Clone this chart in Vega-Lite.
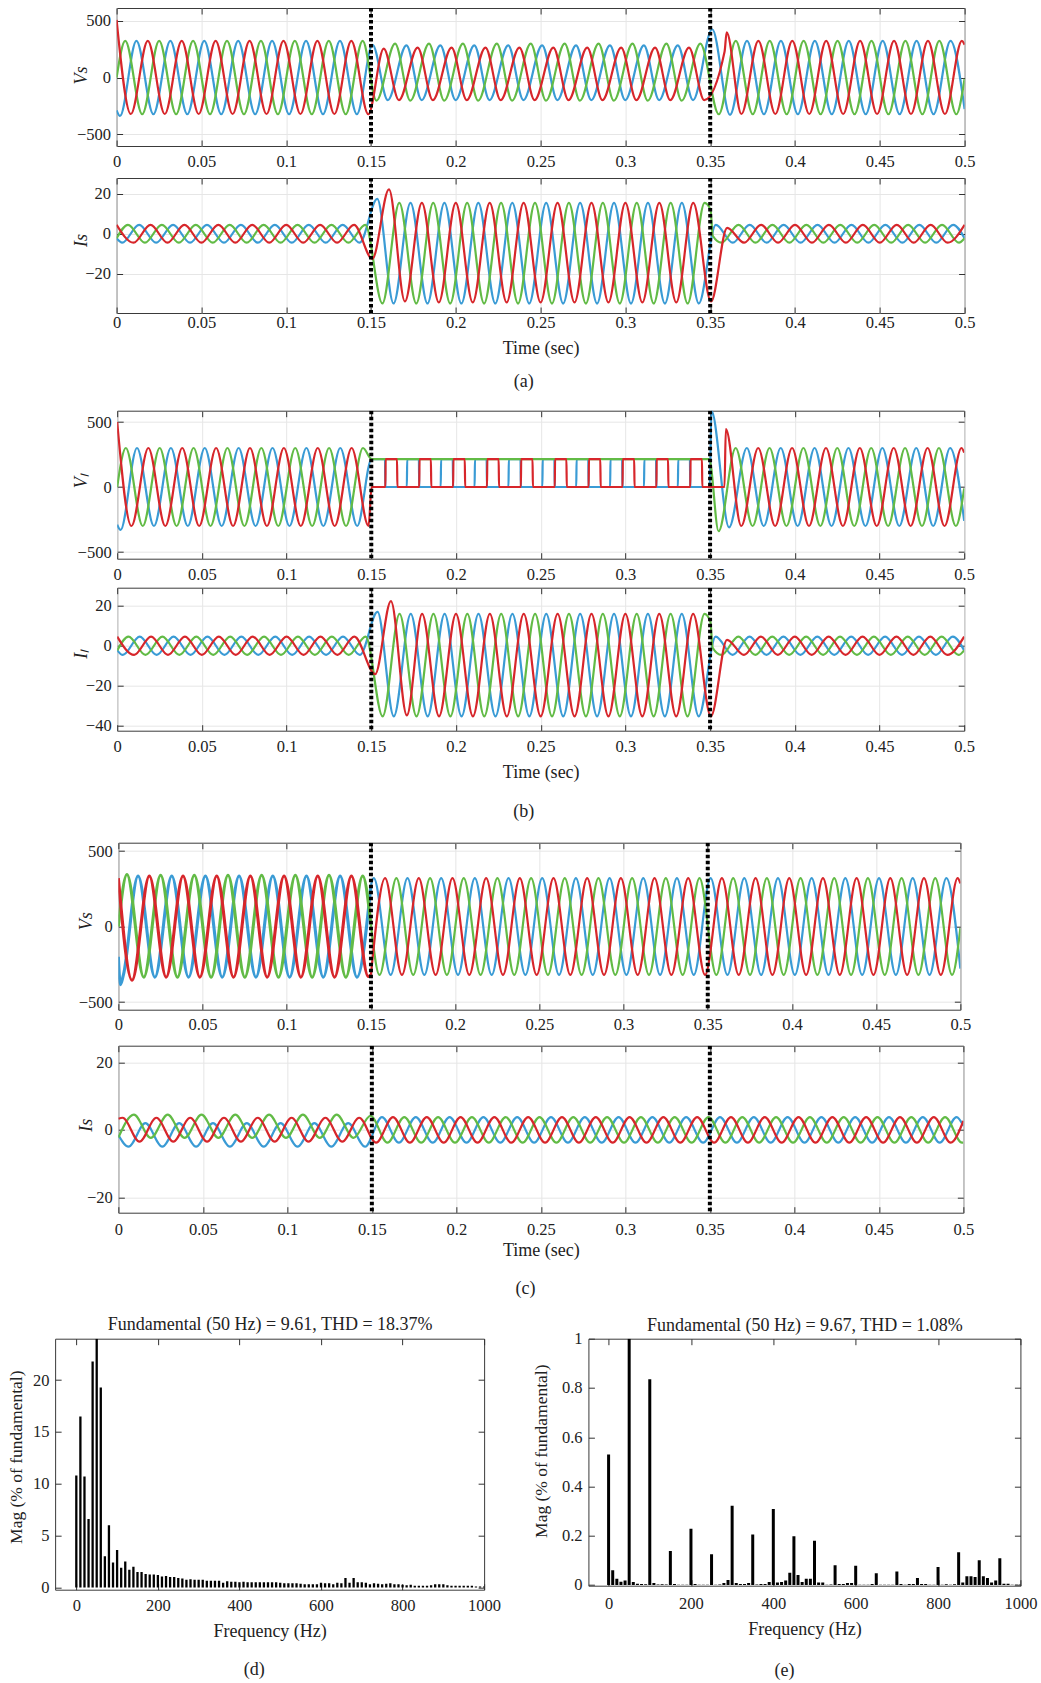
{
"$schema":"https://vega.github.io/schema/vega-lite/v6.json",
"background":"white",
"padding":{"left":6.5,"top":7,"right":0,"bottom":0},
"config":{
"font":"Liberation Serif",
"view":{"stroke":"#3a3a3a","strokeWidth":1},
"style":{"guide-label":{"font":"Liberation Serif"},"guide-title":{"font":"Liberation Serif"},"group-title":{"font":"Liberation Serif"}},
"axis":{"domain":false,"labelFont":"Liberation Serif","labelFontSize":16.5,"labelColor":"#222222","titleFont":"Liberation Serif","titleFontSize":18,"titleFontWeight":"normal","titleColor":"#222222","tickColor":"#333333","tickSize":-6,"tickWidth":1,"gridColor":"#e6e6e6","gridWidth":1,"labelFlush":false,"labelOverlap":false},
"title":{"font":"Liberation Serif","fontSize":18,"fontWeight":"normal","color":"#222222"}
},
"datasets":{
"ev":[{"t":0.15},{"t":0.35}],
"aV":[
{"p":"C","t":0,"v":-290},{"p":"C","t":0.002,"v":-340},{"p":"C","t":0.0117,"v":325},{"p":"C","t":0.0217,"v":-325},{"p":"C","t":0.0317,"v":325},{"p":"C","t":0.0417,"v":-325},{"p":"C","t":0.0517,"v":325},{"p":"C","t":0.0617,"v":-325},{"p":"C","t":0.0717,"v":325},{"p":"C","t":0.0817,"v":-325},{"p":"C","t":0.0917,"v":325},{"p":"C","t":0.1017,"v":-325},{"p":"C","t":0.1117,"v":325},{"p":"C","t":0.1217,"v":-325},{"p":"C","t":0.1317,"v":325},{"p":"C","t":0.1417,"v":-325},{"p":"C","t":0.1509,"v":290},{"p":"C","t":0.1599,"v":-200},{"p":"C","t":0.1709,"v":285},{"p":"C","t":0.1799,"v":-200},{"p":"C","t":0.1909,"v":285},{"p":"C","t":0.1999,"v":-200},{"p":"C","t":0.2109,"v":285},{"p":"C","t":0.2199,"v":-200},{"p":"C","t":0.2309,"v":285},{"p":"C","t":0.2399,"v":-200},{"p":"C","t":0.2509,"v":285},{"p":"C","t":0.2599,"v":-200},{"p":"C","t":0.2709,"v":285},{"p":"C","t":0.2799,"v":-200},{"p":"C","t":0.2909,"v":285},{"p":"C","t":0.2999,"v":-200},{"p":"C","t":0.3109,"v":285},{"p":"C","t":0.3199,"v":-200},{"p":"C","t":0.3309,"v":285},{"p":"C","t":0.3399,"v":-200},{"p":"C","t":0.3512,"v":427},{"p":"C","t":0.3617,"v":-330},{"p":"C","t":0.3717,"v":325},{"p":"C","t":0.3817,"v":-325},{"p":"C","t":0.3917,"v":325},{"p":"C","t":0.4017,"v":-325},{"p":"C","t":0.4117,"v":325},{"p":"C","t":0.4217,"v":-325},{"p":"C","t":0.4317,"v":325},{"p":"C","t":0.4417,"v":-325},{"p":"C","t":0.4517,"v":325},{"p":"C","t":0.4617,"v":-325},{"p":"C","t":0.4717,"v":325},{"p":"C","t":0.4817,"v":-325},{"p":"C","t":0.4917,"v":325},{"p":"C","t":0.5,"v":-279},
{"p":"B","t":0,"v":0},{"p":"B","t":0.0051,"v":325},{"p":"B","t":0.0151,"v":-325},{"p":"B","t":0.0251,"v":325},{"p":"B","t":0.0351,"v":-325},{"p":"B","t":0.0451,"v":325},{"p":"B","t":0.0551,"v":-325},{"p":"B","t":0.0651,"v":325},{"p":"B","t":0.0751,"v":-325},{"p":"B","t":0.0851,"v":325},{"p":"B","t":0.0951,"v":-325},{"p":"B","t":0.1051,"v":325},{"p":"B","t":0.1151,"v":-325},{"p":"B","t":0.1251,"v":325},{"p":"B","t":0.1351,"v":-325},{"p":"B","t":0.1451,"v":325},{"p":"B","t":0.1532,"v":-205},{"p":"B","t":0.1642,"v":300},{"p":"B","t":0.1732,"v":-205},{"p":"B","t":0.1842,"v":300},{"p":"B","t":0.1932,"v":-205},{"p":"B","t":0.2042,"v":300},{"p":"B","t":0.2132,"v":-205},{"p":"B","t":0.2242,"v":300},{"p":"B","t":0.2332,"v":-205},{"p":"B","t":0.2442,"v":300},{"p":"B","t":0.2532,"v":-205},{"p":"B","t":0.2642,"v":300},{"p":"B","t":0.2732,"v":-205},{"p":"B","t":0.2842,"v":300},{"p":"B","t":0.2932,"v":-205},{"p":"B","t":0.3042,"v":300},{"p":"B","t":0.3132,"v":-205},{"p":"B","t":0.3242,"v":300},{"p":"B","t":0.3332,"v":-205},{"p":"B","t":0.3442,"v":300},{"p":"B","t":0.3551,"v":-325},{"p":"B","t":0.3651,"v":325},{"p":"B","t":0.3751,"v":-325},{"p":"B","t":0.3851,"v":325},{"p":"B","t":0.3951,"v":-325},{"p":"B","t":0.4051,"v":325},{"p":"B","t":0.4151,"v":-325},{"p":"B","t":0.4251,"v":325},{"p":"B","t":0.4351,"v":-325},{"p":"B","t":0.4451,"v":325},{"p":"B","t":0.4551,"v":-325},{"p":"B","t":0.4651,"v":325},{"p":"B","t":0.4751,"v":-325},{"p":"B","t":0.4851,"v":325},{"p":"B","t":0.4951,"v":-325},{"p":"B","t":0.5,"v":-10},
{"p":"A","t":0,"v":510},{"p":"A","t":0.0084,"v":-323},{"p":"A","t":0.0184,"v":325},{"p":"A","t":0.0284,"v":-323},{"p":"A","t":0.0384,"v":325},{"p":"A","t":0.0484,"v":-323},{"p":"A","t":0.0584,"v":325},{"p":"A","t":0.0684,"v":-323},{"p":"A","t":0.0784,"v":325},{"p":"A","t":0.0884,"v":-323},{"p":"A","t":0.0984,"v":325},{"p":"A","t":0.1084,"v":-323},{"p":"A","t":0.1184,"v":325},{"p":"A","t":0.1284,"v":-323},{"p":"A","t":0.1384,"v":325},{"p":"A","t":0.1484,"v":-325},{"p":"A","t":0.1575,"v":255},{"p":"A","t":0.1665,"v":-200},{"p":"A","t":0.1775,"v":265},{"p":"A","t":0.1865,"v":-200},{"p":"A","t":0.1975,"v":265},{"p":"A","t":0.2065,"v":-200},{"p":"A","t":0.2175,"v":265},{"p":"A","t":0.2265,"v":-200},{"p":"A","t":0.2375,"v":265},{"p":"A","t":0.2465,"v":-200},{"p":"A","t":0.2575,"v":265},{"p":"A","t":0.2665,"v":-200},{"p":"A","t":0.2775,"v":265},{"p":"A","t":0.2865,"v":-200},{"p":"A","t":0.2975,"v":265},{"p":"A","t":0.3065,"v":-200},{"p":"A","t":0.3175,"v":265},{"p":"A","t":0.3265,"v":-200},{"p":"A","t":0.3375,"v":265},{"p":"A","t":0.3465,"v":-200},{"p":"A","t":0.3585,"v":230},{"p":"A","t":0.3597,"v":400},{"p":"A","t":0.3684,"v":-323},{"p":"A","t":0.3784,"v":325},{"p":"A","t":0.3884,"v":-323},{"p":"A","t":0.3984,"v":325},{"p":"A","t":0.4084,"v":-323},{"p":"A","t":0.4184,"v":325},{"p":"A","t":0.4284,"v":-323},{"p":"A","t":0.4384,"v":325},{"p":"A","t":0.4484,"v":-323},{"p":"A","t":0.4584,"v":325},{"p":"A","t":0.4684,"v":-323},{"p":"A","t":0.4784,"v":325},{"p":"A","t":0.4884,"v":-323},{"p":"A","t":0.4984,"v":325},{"p":"A","t":0.5,"v":290}
],
"aI":[
{"p":"C","t":0,"v":-2.3},{"p":"C","t":0.0033,"v":-4.5},{"p":"C","t":0.0133,"v":4.5},{"p":"C","t":0.0233,"v":-4.5},{"p":"C","t":0.0333,"v":4.5},{"p":"C","t":0.0433,"v":-4.5},{"p":"C","t":0.0533,"v":4.5},{"p":"C","t":0.0633,"v":-4.5},{"p":"C","t":0.0733,"v":4.5},{"p":"C","t":0.0833,"v":-4.5},{"p":"C","t":0.0933,"v":4.5},{"p":"C","t":0.1033,"v":-4.5},{"p":"C","t":0.1133,"v":4.5},{"p":"C","t":0.1233,"v":-4.5},{"p":"C","t":0.1333,"v":4.5},{"p":"C","t":0.1433,"v":-4.5},{"p":"C","t":0.1537,"v":17.5},{"p":"C","t":0.1633,"v":-35},{"p":"C","t":0.1733,"v":15.5},{"p":"C","t":0.1833,"v":-35},{"p":"C","t":0.1933,"v":15.5},{"p":"C","t":0.2033,"v":-35},{"p":"C","t":0.2133,"v":15.5},{"p":"C","t":0.2233,"v":-35},{"p":"C","t":0.2333,"v":15.5},{"p":"C","t":0.2433,"v":-35},{"p":"C","t":0.2533,"v":15.5},{"p":"C","t":0.2633,"v":-35},{"p":"C","t":0.2733,"v":15.5},{"p":"C","t":0.2833,"v":-35},{"p":"C","t":0.2933,"v":15.5},{"p":"C","t":0.3033,"v":-35},{"p":"C","t":0.3133,"v":15.5},{"p":"C","t":0.3233,"v":-35},{"p":"C","t":0.3333,"v":15.5},{"p":"C","t":0.3433,"v":-35},{"p":"C","t":0.3533,"v":4.5},{"p":"C","t":0.3633,"v":-4.5},{"p":"C","t":0.3733,"v":4.5},{"p":"C","t":0.3833,"v":-4.5},{"p":"C","t":0.3933,"v":4.5},{"p":"C","t":0.4033,"v":-4.5},{"p":"C","t":0.4133,"v":4.5},{"p":"C","t":0.4233,"v":-4.5},{"p":"C","t":0.4333,"v":4.5},{"p":"C","t":0.4433,"v":-4.5},{"p":"C","t":0.4533,"v":4.5},{"p":"C","t":0.4633,"v":-4.5},{"p":"C","t":0.4733,"v":4.5},{"p":"C","t":0.4833,"v":-4.5},{"p":"C","t":0.4933,"v":4.5},{"p":"C","t":0.5,"v":-2.3},
{"p":"B","t":0,"v":-2.3},{"p":"B","t":0.0067,"v":4.5},{"p":"B","t":0.0167,"v":-4.5},{"p":"B","t":0.0267,"v":4.5},{"p":"B","t":0.0367,"v":-4.5},{"p":"B","t":0.0467,"v":4.5},{"p":"B","t":0.0567,"v":-4.5},{"p":"B","t":0.0667,"v":4.5},{"p":"B","t":0.0767,"v":-4.5},{"p":"B","t":0.0867,"v":4.5},{"p":"B","t":0.0967,"v":-4.5},{"p":"B","t":0.1067,"v":4.5},{"p":"B","t":0.1167,"v":-4.5},{"p":"B","t":0.1267,"v":4.5},{"p":"B","t":0.1367,"v":-4.5},{"p":"B","t":0.1467,"v":4.5},{"p":"B","t":0.1567,"v":-35},{"p":"B","t":0.1667,"v":15.5},{"p":"B","t":0.1767,"v":-35},{"p":"B","t":0.1867,"v":15.5},{"p":"B","t":0.1967,"v":-35},{"p":"B","t":0.2067,"v":15.5},{"p":"B","t":0.2167,"v":-35},{"p":"B","t":0.2267,"v":15.5},{"p":"B","t":0.2367,"v":-35},{"p":"B","t":0.2467,"v":15.5},{"p":"B","t":0.2567,"v":-35},{"p":"B","t":0.2667,"v":15.5},{"p":"B","t":0.2767,"v":-35},{"p":"B","t":0.2867,"v":15.5},{"p":"B","t":0.2967,"v":-35},{"p":"B","t":0.3067,"v":15.5},{"p":"B","t":0.3167,"v":-35},{"p":"B","t":0.3267,"v":15.5},{"p":"B","t":0.3367,"v":-35},{"p":"B","t":0.3467,"v":15.5},{"p":"B","t":0.3502,"v":12},{"p":"B","t":0.3515,"v":-1},{"p":"B","t":0.3567,"v":-4.5},{"p":"B","t":0.3667,"v":4.5},{"p":"B","t":0.3767,"v":-4.5},{"p":"B","t":0.3867,"v":4.5},{"p":"B","t":0.3967,"v":-4.5},{"p":"B","t":0.4067,"v":4.5},{"p":"B","t":0.4167,"v":-4.5},{"p":"B","t":0.4267,"v":4.5},{"p":"B","t":0.4367,"v":-4.5},{"p":"B","t":0.4467,"v":4.5},{"p":"B","t":0.4567,"v":-4.5},{"p":"B","t":0.4667,"v":4.5},{"p":"B","t":0.4767,"v":-4.5},{"p":"B","t":0.4867,"v":4.5},{"p":"B","t":0.4967,"v":-4.5},{"p":"B","t":0.5,"v":-2.3},
{"p":"A","t":0,"v":4.5},{"p":"A","t":0.01,"v":-4.5},{"p":"A","t":0.02,"v":4.5},{"p":"A","t":0.03,"v":-4.5},{"p":"A","t":0.04,"v":4.5},{"p":"A","t":0.05,"v":-4.5},{"p":"A","t":0.06,"v":4.5},{"p":"A","t":0.07,"v":-4.5},{"p":"A","t":0.08,"v":4.5},{"p":"A","t":0.09,"v":-4.5},{"p":"A","t":0.1,"v":4.5},{"p":"A","t":0.11,"v":-4.5},{"p":"A","t":0.12,"v":4.5},{"p":"A","t":0.13,"v":-4.5},{"p":"A","t":0.14,"v":4.5},{"p":"A","t":0.1508,"v":-12.6},{"p":"A","t":0.1606,"v":22.3},{"p":"A","t":0.17,"v":-34},{"p":"A","t":0.18,"v":15.5},{"p":"A","t":0.19,"v":-34.5},{"p":"A","t":0.2,"v":15.5},{"p":"A","t":0.21,"v":-34.5},{"p":"A","t":0.22,"v":15.5},{"p":"A","t":0.23,"v":-34.5},{"p":"A","t":0.24,"v":15.5},{"p":"A","t":0.25,"v":-34.5},{"p":"A","t":0.26,"v":15.5},{"p":"A","t":0.27,"v":-34.5},{"p":"A","t":0.28,"v":15.5},{"p":"A","t":0.29,"v":-34.5},{"p":"A","t":0.3,"v":15.5},{"p":"A","t":0.31,"v":-34.5},{"p":"A","t":0.32,"v":15.5},{"p":"A","t":0.33,"v":-34.5},{"p":"A","t":0.34,"v":15.5},{"p":"A","t":0.3505,"v":-34},{"p":"A","t":0.36,"v":3},{"p":"A","t":0.37,"v":-4.5},{"p":"A","t":0.38,"v":4.5},{"p":"A","t":0.39,"v":-4.5},{"p":"A","t":0.4,"v":4.5},{"p":"A","t":0.41,"v":-4.5},{"p":"A","t":0.42,"v":4.5},{"p":"A","t":0.43,"v":-4.5},{"p":"A","t":0.44,"v":4.5},{"p":"A","t":0.45,"v":-4.5},{"p":"A","t":0.46,"v":4.5},{"p":"A","t":0.47,"v":-4.5},{"p":"A","t":0.48,"v":4.5},{"p":"A","t":0.49,"v":-4.5},{"p":"A","t":0.5,"v":4.5}
],
"bV":[
{"p":"C","t":0,"v":-290},{"p":"C","t":0.002,"v":-330},{"p":"C","t":0.0117,"v":300},{"p":"C","t":0.0217,"v":-300},{"p":"C","t":0.0317,"v":300},{"p":"C","t":0.0417,"v":-300},{"p":"C","t":0.0517,"v":300},{"p":"C","t":0.0617,"v":-300},{"p":"C","t":0.0717,"v":300},{"p":"C","t":0.0817,"v":-300},{"p":"C","t":0.0917,"v":300},{"p":"C","t":0.1017,"v":-300},{"p":"C","t":0.1117,"v":300},{"p":"C","t":0.1217,"v":-300},{"p":"C","t":0.1317,"v":300},{"p":"C","t":0.1417,"v":-300},{"p":"C","t":0.1502,"v":215},{"p":"C","t":0.1581,"v":215},{"p":"C","t":0.1583,"v":0},
{"p":"C","t":0.171,"v":0},{"p":"C","t":0.1712,"v":215},{"p":"C","t":0.1781,"v":215},{"p":"C","t":0.1783,"v":0},
{"p":"C","t":0.191,"v":0},{"p":"C","t":0.1912,"v":215},{"p":"C","t":0.1981,"v":215},{"p":"C","t":0.1983,"v":0},
{"p":"C","t":0.211,"v":0},{"p":"C","t":0.2112,"v":215},{"p":"C","t":0.2181,"v":215},{"p":"C","t":0.2183,"v":0},
{"p":"C","t":0.231,"v":0},{"p":"C","t":0.2312,"v":215},{"p":"C","t":0.2381,"v":215},{"p":"C","t":0.2383,"v":0},
{"p":"C","t":0.251,"v":0},{"p":"C","t":0.2512,"v":215},{"p":"C","t":0.2581,"v":215},{"p":"C","t":0.2583,"v":0},
{"p":"C","t":0.271,"v":0},{"p":"C","t":0.2712,"v":215},{"p":"C","t":0.2781,"v":215},{"p":"C","t":0.2783,"v":0},
{"p":"C","t":0.291,"v":0},{"p":"C","t":0.2912,"v":215},{"p":"C","t":0.2981,"v":215},{"p":"C","t":0.2983,"v":0},
{"p":"C","t":0.311,"v":0},{"p":"C","t":0.3112,"v":215},{"p":"C","t":0.3181,"v":215},{"p":"C","t":0.3183,"v":0},
{"p":"C","t":0.331,"v":0},{"p":"C","t":0.3312,"v":215},{"p":"C","t":0.3381,"v":215},{"p":"C","t":0.3383,"v":0},
{"p":"C","t":0.3498,"v":0},{"p":"C","t":0.3508,"v":585},{"p":"C","t":0.3612,"v":-310},{"p":"C","t":0.3717,"v":300},{"p":"C","t":0.3817,"v":-300},{"p":"C","t":0.3917,"v":300},{"p":"C","t":0.4017,"v":-300},{"p":"C","t":0.4117,"v":300},{"p":"C","t":0.4217,"v":-300},{"p":"C","t":0.4317,"v":300},{"p":"C","t":0.4417,"v":-300},{"p":"C","t":0.4517,"v":300},{"p":"C","t":0.4617,"v":-300},{"p":"C","t":0.4717,"v":300},{"p":"C","t":0.4817,"v":-300},{"p":"C","t":0.4917,"v":300},{"p":"C","t":0.5,"v":-260},
{"p":"B","t":0,"v":0},{"p":"B","t":0.0051,"v":300},{"p":"B","t":0.0151,"v":-300},{"p":"B","t":0.0251,"v":300},{"p":"B","t":0.0351,"v":-300},{"p":"B","t":0.0451,"v":300},{"p":"B","t":0.0551,"v":-300},{"p":"B","t":0.0651,"v":300},{"p":"B","t":0.0751,"v":-300},{"p":"B","t":0.0851,"v":300},{"p":"B","t":0.0951,"v":-300},{"p":"B","t":0.1051,"v":300},{"p":"B","t":0.1151,"v":-300},{"p":"B","t":0.1251,"v":300},{"p":"B","t":0.1351,"v":-300},{"p":"B","t":0.1451,"v":300},{"p":"B","t":0.1502,"v":215},{"p":"B","t":0.3495,"v":215},{"p":"B","t":0.355,"v":-340},{"p":"B","t":0.3651,"v":300},{"p":"B","t":0.3751,"v":-300},{"p":"B","t":0.3851,"v":300},{"p":"B","t":0.3951,"v":-300},{"p":"B","t":0.4051,"v":300},{"p":"B","t":0.4151,"v":-300},{"p":"B","t":0.4251,"v":300},{"p":"B","t":0.4351,"v":-300},{"p":"B","t":0.4451,"v":300},{"p":"B","t":0.4551,"v":-300},{"p":"B","t":0.4651,"v":300},{"p":"B","t":0.4751,"v":-300},{"p":"B","t":0.4851,"v":300},{"p":"B","t":0.4951,"v":-300},{"p":"B","t":0.5,"v":-10},
{"p":"A","t":0,"v":500},{"p":"A","t":0.0084,"v":-300},{"p":"A","t":0.0184,"v":300},{"p":"A","t":0.0284,"v":-300},{"p":"A","t":0.0384,"v":300},{"p":"A","t":0.0484,"v":-300},{"p":"A","t":0.0584,"v":300},{"p":"A","t":0.0684,"v":-300},{"p":"A","t":0.0784,"v":300},{"p":"A","t":0.0884,"v":-300},{"p":"A","t":0.0984,"v":300},{"p":"A","t":0.1084,"v":-300},{"p":"A","t":0.1184,"v":300},{"p":"A","t":0.1284,"v":-300},{"p":"A","t":0.1384,"v":300},{"p":"A","t":0.1484,"v":-300},{"p":"A","t":0.1502,"v":0},
{"p":"A","t":0.1583,"v":0},{"p":"A","t":0.1585,"v":215},{"p":"A","t":0.1652,"v":215},{"p":"A","t":0.1654,"v":0},
{"p":"A","t":0.1783,"v":0},{"p":"A","t":0.1785,"v":215},{"p":"A","t":0.1852,"v":215},{"p":"A","t":0.1854,"v":0},
{"p":"A","t":0.1983,"v":0},{"p":"A","t":0.1985,"v":215},{"p":"A","t":0.2052,"v":215},{"p":"A","t":0.2054,"v":0},
{"p":"A","t":0.2183,"v":0},{"p":"A","t":0.2185,"v":215},{"p":"A","t":0.2252,"v":215},{"p":"A","t":0.2254,"v":0},
{"p":"A","t":0.2383,"v":0},{"p":"A","t":0.2385,"v":215},{"p":"A","t":0.2452,"v":215},{"p":"A","t":0.2454,"v":0},
{"p":"A","t":0.2583,"v":0},{"p":"A","t":0.2585,"v":215},{"p":"A","t":0.2652,"v":215},{"p":"A","t":0.2654,"v":0},
{"p":"A","t":0.2783,"v":0},{"p":"A","t":0.2785,"v":215},{"p":"A","t":0.2852,"v":215},{"p":"A","t":0.2854,"v":0},
{"p":"A","t":0.2983,"v":0},{"p":"A","t":0.2985,"v":215},{"p":"A","t":0.3052,"v":215},{"p":"A","t":0.3054,"v":0},
{"p":"A","t":0.3183,"v":0},{"p":"A","t":0.3185,"v":215},{"p":"A","t":0.3252,"v":215},{"p":"A","t":0.3254,"v":0},
{"p":"A","t":0.3383,"v":0},{"p":"A","t":0.3385,"v":215},{"p":"A","t":0.3452,"v":215},{"p":"A","t":0.3454,"v":0},
{"p":"A","t":0.3585,"v":0},{"p":"A","t":0.3593,"v":446},{"p":"A","t":0.3684,"v":-300},{"p":"A","t":0.3784,"v":300},{"p":"A","t":0.3884,"v":-300},{"p":"A","t":0.3984,"v":300},{"p":"A","t":0.4084,"v":-300},{"p":"A","t":0.4184,"v":300},{"p":"A","t":0.4284,"v":-300},{"p":"A","t":0.4384,"v":300},{"p":"A","t":0.4484,"v":-300},{"p":"A","t":0.4584,"v":300},{"p":"A","t":0.4684,"v":-300},{"p":"A","t":0.4784,"v":300},{"p":"A","t":0.4884,"v":-300},{"p":"A","t":0.4984,"v":300},{"p":"A","t":0.5,"v":265}
],
"bI":[
{"p":"C","t":0,"v":-2.3},{"p":"C","t":0.0033,"v":-4.6},{"p":"C","t":0.0133,"v":4.6},{"p":"C","t":0.0233,"v":-4.6},{"p":"C","t":0.0333,"v":4.6},{"p":"C","t":0.0433,"v":-4.6},{"p":"C","t":0.0533,"v":4.6},{"p":"C","t":0.0633,"v":-4.6},{"p":"C","t":0.0733,"v":4.6},{"p":"C","t":0.0833,"v":-4.6},{"p":"C","t":0.0933,"v":4.6},{"p":"C","t":0.1033,"v":-4.6},{"p":"C","t":0.1133,"v":4.6},{"p":"C","t":0.1233,"v":-4.6},{"p":"C","t":0.1333,"v":4.6},{"p":"C","t":0.1433,"v":-4.6},{"p":"C","t":0.1537,"v":17},{"p":"C","t":0.1633,"v":-35.5},{"p":"C","t":0.1733,"v":16},{"p":"C","t":0.1833,"v":-35.5},{"p":"C","t":0.1933,"v":16},{"p":"C","t":0.2033,"v":-35.5},{"p":"C","t":0.2133,"v":16},{"p":"C","t":0.2233,"v":-35.5},{"p":"C","t":0.2333,"v":16},{"p":"C","t":0.2433,"v":-35.5},{"p":"C","t":0.2533,"v":16},{"p":"C","t":0.2633,"v":-35.5},{"p":"C","t":0.2733,"v":16},{"p":"C","t":0.2833,"v":-35.5},{"p":"C","t":0.2933,"v":16},{"p":"C","t":0.3033,"v":-35.5},{"p":"C","t":0.3133,"v":16},{"p":"C","t":0.3233,"v":-35.5},{"p":"C","t":0.3333,"v":16},{"p":"C","t":0.3433,"v":-35.5},{"p":"C","t":0.3533,"v":4.6},{"p":"C","t":0.3633,"v":-4.6},{"p":"C","t":0.3733,"v":4.6},{"p":"C","t":0.3833,"v":-4.6},{"p":"C","t":0.3933,"v":4.6},{"p":"C","t":0.4033,"v":-4.6},{"p":"C","t":0.4133,"v":4.6},{"p":"C","t":0.4233,"v":-4.6},{"p":"C","t":0.4333,"v":4.6},{"p":"C","t":0.4433,"v":-4.6},{"p":"C","t":0.4533,"v":4.6},{"p":"C","t":0.4633,"v":-4.6},{"p":"C","t":0.4733,"v":4.6},{"p":"C","t":0.4833,"v":-4.6},{"p":"C","t":0.4933,"v":4.6},{"p":"C","t":0.5,"v":-2.3},
{"p":"B","t":0,"v":-2.3},{"p":"B","t":0.0067,"v":4.6},{"p":"B","t":0.0167,"v":-4.6},{"p":"B","t":0.0267,"v":4.6},{"p":"B","t":0.0367,"v":-4.6},{"p":"B","t":0.0467,"v":4.6},{"p":"B","t":0.0567,"v":-4.6},{"p":"B","t":0.0667,"v":4.6},{"p":"B","t":0.0767,"v":-4.6},{"p":"B","t":0.0867,"v":4.6},{"p":"B","t":0.0967,"v":-4.6},{"p":"B","t":0.1067,"v":4.6},{"p":"B","t":0.1167,"v":-4.6},{"p":"B","t":0.1267,"v":4.6},{"p":"B","t":0.1367,"v":-4.6},{"p":"B","t":0.1467,"v":4.6},{"p":"B","t":0.1567,"v":-35.5},{"p":"B","t":0.1667,"v":16},{"p":"B","t":0.1767,"v":-35.5},{"p":"B","t":0.1867,"v":16},{"p":"B","t":0.1967,"v":-35.5},{"p":"B","t":0.2067,"v":16},{"p":"B","t":0.2167,"v":-35.5},{"p":"B","t":0.2267,"v":16},{"p":"B","t":0.2367,"v":-35.5},{"p":"B","t":0.2467,"v":16},{"p":"B","t":0.2567,"v":-35.5},{"p":"B","t":0.2667,"v":16},{"p":"B","t":0.2767,"v":-35.5},{"p":"B","t":0.2867,"v":16},{"p":"B","t":0.2967,"v":-35.5},{"p":"B","t":0.3067,"v":16},{"p":"B","t":0.3167,"v":-35.5},{"p":"B","t":0.3267,"v":16},{"p":"B","t":0.3367,"v":-35.5},{"p":"B","t":0.3467,"v":16},{"p":"B","t":0.3502,"v":12},{"p":"B","t":0.3515,"v":-1},{"p":"B","t":0.3567,"v":-4.6},{"p":"B","t":0.3667,"v":4.6},{"p":"B","t":0.3767,"v":-4.6},{"p":"B","t":0.3867,"v":4.6},{"p":"B","t":0.3967,"v":-4.6},{"p":"B","t":0.4067,"v":4.6},{"p":"B","t":0.4167,"v":-4.6},{"p":"B","t":0.4267,"v":4.6},{"p":"B","t":0.4367,"v":-4.6},{"p":"B","t":0.4467,"v":4.6},{"p":"B","t":0.4567,"v":-4.6},{"p":"B","t":0.4667,"v":4.6},{"p":"B","t":0.4767,"v":-4.6},{"p":"B","t":0.4867,"v":4.6},{"p":"B","t":0.4967,"v":-4.6},{"p":"B","t":0.5,"v":-2.3},
{"p":"A","t":0,"v":4.6},{"p":"A","t":0.01,"v":-4.6},{"p":"A","t":0.02,"v":4.6},{"p":"A","t":0.03,"v":-4.6},{"p":"A","t":0.04,"v":4.6},{"p":"A","t":0.05,"v":-4.6},{"p":"A","t":0.06,"v":4.6},{"p":"A","t":0.07,"v":-4.6},{"p":"A","t":0.08,"v":4.6},{"p":"A","t":0.09,"v":-4.6},{"p":"A","t":0.1,"v":4.6},{"p":"A","t":0.11,"v":-4.6},{"p":"A","t":0.12,"v":4.6},{"p":"A","t":0.13,"v":-4.6},{"p":"A","t":0.14,"v":4.6},{"p":"A","t":0.1523,"v":-14.3},{"p":"A","t":0.1616,"v":22.5},{"p":"A","t":0.171,"v":-35},{"p":"A","t":0.18,"v":16},{"p":"A","t":0.19,"v":-35.5},{"p":"A","t":0.2,"v":16},{"p":"A","t":0.21,"v":-35.5},{"p":"A","t":0.22,"v":16},{"p":"A","t":0.23,"v":-35.5},{"p":"A","t":0.24,"v":16},{"p":"A","t":0.25,"v":-35.5},{"p":"A","t":0.26,"v":16},{"p":"A","t":0.27,"v":-35.5},{"p":"A","t":0.28,"v":16},{"p":"A","t":0.29,"v":-35.5},{"p":"A","t":0.3,"v":16},{"p":"A","t":0.31,"v":-35.5},{"p":"A","t":0.32,"v":16},{"p":"A","t":0.33,"v":-35.5},{"p":"A","t":0.34,"v":16},{"p":"A","t":0.3505,"v":-35.5},{"p":"A","t":0.36,"v":3},{"p":"A","t":0.37,"v":-4.6},{"p":"A","t":0.38,"v":4.6},{"p":"A","t":0.39,"v":-4.6},{"p":"A","t":0.4,"v":4.6},{"p":"A","t":0.41,"v":-4.6},{"p":"A","t":0.42,"v":4.6},{"p":"A","t":0.43,"v":-4.6},{"p":"A","t":0.44,"v":4.6},{"p":"A","t":0.45,"v":-4.6},{"p":"A","t":0.46,"v":4.6},{"p":"A","t":0.47,"v":-4.6},{"p":"A","t":0.48,"v":4.6},{"p":"A","t":0.49,"v":-4.6},{"p":"A","t":0.5,"v":4.6}
],
"cV":[
{"p":"C","s":"pre","t":0,"v":-200},{"p":"C","s":"pre","t":0.0012,"v":-385},{"p":"C","s":"pre","t":0.003,"v":-320},{"p":"C","s":"pre","t":0.0117,"v":335},{"p":"C","s":"pre","t":0.0217,"v":-335},{"p":"C","s":"pre","t":0.0317,"v":335},{"p":"C","s":"pre","t":0.0417,"v":-335},{"p":"C","s":"pre","t":0.0517,"v":335},{"p":"C","s":"pre","t":0.0617,"v":-335},{"p":"C","s":"pre","t":0.0717,"v":335},{"p":"C","s":"pre","t":0.0817,"v":-335},{"p":"C","s":"pre","t":0.0917,"v":335},{"p":"C","s":"pre","t":0.1017,"v":-335},{"p":"C","s":"pre","t":0.1117,"v":335},{"p":"C","s":"pre","t":0.1217,"v":-335},{"p":"C","s":"pre","t":0.1317,"v":335},{"p":"C","s":"pre","t":0.1417,"v":-335},{"p":"C","s":"pre","t":0.15,"v":276},
{"p":"C","s":"post","t":0.15,"v":276},{"p":"C","s":"post","t":0.1517,"v":320},{"p":"C","s":"post","t":0.1617,"v":-320},{"p":"C","s":"post","t":0.1717,"v":320},{"p":"C","s":"post","t":0.1817,"v":-320},{"p":"C","s":"post","t":0.1917,"v":320},{"p":"C","s":"post","t":0.2017,"v":-320},{"p":"C","s":"post","t":0.2117,"v":320},{"p":"C","s":"post","t":0.2217,"v":-320},{"p":"C","s":"post","t":0.2317,"v":320},{"p":"C","s":"post","t":0.2417,"v":-320},{"p":"C","s":"post","t":0.2517,"v":320},{"p":"C","s":"post","t":0.2617,"v":-320},{"p":"C","s":"post","t":0.2717,"v":320},{"p":"C","s":"post","t":0.2817,"v":-320},{"p":"C","s":"post","t":0.2917,"v":320},{"p":"C","s":"post","t":0.3017,"v":-320},{"p":"C","s":"post","t":0.3117,"v":320},{"p":"C","s":"post","t":0.3217,"v":-320},{"p":"C","s":"post","t":0.3317,"v":320},{"p":"C","s":"post","t":0.3417,"v":-320},{"p":"C","s":"post","t":0.3517,"v":320},{"p":"C","s":"post","t":0.3617,"v":-320},{"p":"C","s":"post","t":0.3717,"v":320},{"p":"C","s":"post","t":0.3817,"v":-320},{"p":"C","s":"post","t":0.3917,"v":320},{"p":"C","s":"post","t":0.4017,"v":-320},{"p":"C","s":"post","t":0.4117,"v":320},{"p":"C","s":"post","t":0.4217,"v":-320},{"p":"C","s":"post","t":0.4317,"v":320},{"p":"C","s":"post","t":0.4417,"v":-320},{"p":"C","s":"post","t":0.4517,"v":320},{"p":"C","s":"post","t":0.4617,"v":-320},{"p":"C","s":"post","t":0.4717,"v":320},{"p":"C","s":"post","t":0.4817,"v":-320},{"p":"C","s":"post","t":0.4917,"v":320},{"p":"C","s":"post","t":0.5,"v":-278},
{"p":"B","s":"pre","t":0,"v":0},{"p":"B","s":"pre","t":0.0051,"v":345},{"p":"B","s":"pre","t":0.0151,"v":-335},{"p":"B","s":"pre","t":0.0251,"v":340},{"p":"B","s":"pre","t":0.0351,"v":-335},{"p":"B","s":"pre","t":0.0451,"v":340},{"p":"B","s":"pre","t":0.0551,"v":-335},{"p":"B","s":"pre","t":0.0651,"v":340},{"p":"B","s":"pre","t":0.0751,"v":-335},{"p":"B","s":"pre","t":0.0851,"v":340},{"p":"B","s":"pre","t":0.0951,"v":-335},{"p":"B","s":"pre","t":0.1051,"v":340},{"p":"B","s":"pre","t":0.1151,"v":-335},{"p":"B","s":"pre","t":0.1251,"v":340},{"p":"B","s":"pre","t":0.1351,"v":-335},{"p":"B","s":"pre","t":0.1451,"v":335},{"p":"B","s":"pre","t":0.15,"v":10},
{"p":"B","s":"post","t":0.15,"v":10},{"p":"B","s":"post","t":0.1551,"v":-320},{"p":"B","s":"post","t":0.1651,"v":320},{"p":"B","s":"post","t":0.1751,"v":-320},{"p":"B","s":"post","t":0.1851,"v":320},{"p":"B","s":"post","t":0.1951,"v":-320},{"p":"B","s":"post","t":0.2051,"v":320},{"p":"B","s":"post","t":0.2151,"v":-320},{"p":"B","s":"post","t":0.2251,"v":320},{"p":"B","s":"post","t":0.2351,"v":-320},{"p":"B","s":"post","t":0.2451,"v":320},{"p":"B","s":"post","t":0.2551,"v":-320},{"p":"B","s":"post","t":0.2651,"v":320},{"p":"B","s":"post","t":0.2751,"v":-320},{"p":"B","s":"post","t":0.2851,"v":320},{"p":"B","s":"post","t":0.2951,"v":-320},{"p":"B","s":"post","t":0.3051,"v":320},{"p":"B","s":"post","t":0.3151,"v":-320},{"p":"B","s":"post","t":0.3251,"v":320},{"p":"B","s":"post","t":0.3351,"v":-320},{"p":"B","s":"post","t":0.3451,"v":320},{"p":"B","s":"post","t":0.3551,"v":-320},{"p":"B","s":"post","t":0.3651,"v":320},{"p":"B","s":"post","t":0.3751,"v":-320},{"p":"B","s":"post","t":0.3851,"v":320},{"p":"B","s":"post","t":0.3951,"v":-320},{"p":"B","s":"post","t":0.4051,"v":320},{"p":"B","s":"post","t":0.4151,"v":-320},{"p":"B","s":"post","t":0.4251,"v":320},{"p":"B","s":"post","t":0.4351,"v":-320},{"p":"B","s":"post","t":0.4451,"v":320},{"p":"B","s":"post","t":0.4551,"v":-320},{"p":"B","s":"post","t":0.4651,"v":320},{"p":"B","s":"post","t":0.4751,"v":-320},{"p":"B","s":"post","t":0.4851,"v":320},{"p":"B","s":"post","t":0.4951,"v":-320},{"p":"B","s":"post","t":0.5,"v":-10},
{"p":"A","s":"pre","t":0,"v":320},{"p":"A","s":"pre","t":0.0081,"v":-355},{"p":"A","s":"pre","t":0.0184,"v":335},{"p":"A","s":"pre","t":0.0284,"v":-335},{"p":"A","s":"pre","t":0.0384,"v":335},{"p":"A","s":"pre","t":0.0484,"v":-335},{"p":"A","s":"pre","t":0.0584,"v":335},{"p":"A","s":"pre","t":0.0684,"v":-335},{"p":"A","s":"pre","t":0.0784,"v":335},{"p":"A","s":"pre","t":0.0884,"v":-335},{"p":"A","s":"pre","t":0.0984,"v":335},{"p":"A","s":"pre","t":0.1084,"v":-335},{"p":"A","s":"pre","t":0.1184,"v":335},{"p":"A","s":"pre","t":0.1284,"v":-335},{"p":"A","s":"pre","t":0.1384,"v":335},{"p":"A","s":"pre","t":0.1484,"v":-330},{"p":"A","s":"pre","t":0.15,"v":-320},
{"p":"A","s":"post","t":0.15,"v":-320},{"p":"A","s":"post","t":0.1584,"v":320},{"p":"A","s":"post","t":0.1684,"v":-320},{"p":"A","s":"post","t":0.1784,"v":320},{"p":"A","s":"post","t":0.1884,"v":-320},{"p":"A","s":"post","t":0.1984,"v":320},{"p":"A","s":"post","t":0.2084,"v":-320},{"p":"A","s":"post","t":0.2184,"v":320},{"p":"A","s":"post","t":0.2284,"v":-320},{"p":"A","s":"post","t":0.2384,"v":320},{"p":"A","s":"post","t":0.2484,"v":-320},{"p":"A","s":"post","t":0.2584,"v":320},{"p":"A","s":"post","t":0.2684,"v":-320},{"p":"A","s":"post","t":0.2784,"v":320},{"p":"A","s":"post","t":0.2884,"v":-320},{"p":"A","s":"post","t":0.2984,"v":320},{"p":"A","s":"post","t":0.3084,"v":-320},{"p":"A","s":"post","t":0.3184,"v":320},{"p":"A","s":"post","t":0.3284,"v":-320},{"p":"A","s":"post","t":0.3384,"v":320},{"p":"A","s":"post","t":0.3484,"v":-320},{"p":"A","s":"post","t":0.3584,"v":320},{"p":"A","s":"post","t":0.3684,"v":-320},{"p":"A","s":"post","t":0.3784,"v":320},{"p":"A","s":"post","t":0.3884,"v":-320},{"p":"A","s":"post","t":0.3984,"v":320},{"p":"A","s":"post","t":0.4084,"v":-320},{"p":"A","s":"post","t":0.4184,"v":320},{"p":"A","s":"post","t":0.4284,"v":-320},{"p":"A","s":"post","t":0.4384,"v":320},{"p":"A","s":"post","t":0.4484,"v":-320},{"p":"A","s":"post","t":0.4584,"v":320},{"p":"A","s":"post","t":0.4684,"v":-320},{"p":"A","s":"post","t":0.4784,"v":320},{"p":"A","s":"post","t":0.4884,"v":-320},{"p":"A","s":"post","t":0.4984,"v":320},{"p":"A","s":"post","t":0.5,"v":285}
],
"cI":[
{"p":"C","t":0,"v":-1.5},{"p":"C","t":0.006,"v":-5},{"p":"C","t":0.016,"v":2},{"p":"C","t":0.026,"v":-5},{"p":"C","t":0.036,"v":2},{"p":"C","t":0.046,"v":-5},{"p":"C","t":0.056,"v":2},{"p":"C","t":0.066,"v":-5},{"p":"C","t":0.076,"v":2},{"p":"C","t":0.086,"v":-5},{"p":"C","t":0.096,"v":2},{"p":"C","t":0.106,"v":-5},{"p":"C","t":0.116,"v":2},{"p":"C","t":0.126,"v":-5},{"p":"C","t":0.136,"v":2},{"p":"C","t":0.146,"v":-5},{"p":"C","t":0.156,"v":3.8},{"p":"C","t":0.166,"v":-3.8},{"p":"C","t":0.176,"v":3.8},{"p":"C","t":0.186,"v":-3.8},{"p":"C","t":0.196,"v":3.8},{"p":"C","t":0.206,"v":-3.8},{"p":"C","t":0.216,"v":3.8},{"p":"C","t":0.226,"v":-3.8},{"p":"C","t":0.236,"v":3.8},{"p":"C","t":0.246,"v":-3.8},{"p":"C","t":0.256,"v":3.8},{"p":"C","t":0.266,"v":-3.8},{"p":"C","t":0.276,"v":3.8},{"p":"C","t":0.286,"v":-3.8},{"p":"C","t":0.296,"v":3.8},{"p":"C","t":0.306,"v":-3.8},{"p":"C","t":0.316,"v":3.8},{"p":"C","t":0.326,"v":-3.8},{"p":"C","t":0.336,"v":3.8},{"p":"C","t":0.346,"v":-3.8},{"p":"C","t":0.356,"v":3.8},{"p":"C","t":0.366,"v":-3.8},{"p":"C","t":0.376,"v":3.8},{"p":"C","t":0.386,"v":-3.8},{"p":"C","t":0.396,"v":3.8},{"p":"C","t":0.406,"v":-3.8},{"p":"C","t":0.416,"v":3.8},{"p":"C","t":0.426,"v":-3.8},{"p":"C","t":0.436,"v":3.8},{"p":"C","t":0.446,"v":-3.8},{"p":"C","t":0.456,"v":3.8},{"p":"C","t":0.466,"v":-3.8},{"p":"C","t":0.476,"v":3.8},{"p":"C","t":0.486,"v":-3.8},{"p":"C","t":0.496,"v":3.8},{"p":"C","t":0.5,"v":1.2},
{"p":"B","t":0,"v":-2.3},{"p":"B","t":0.0092,"v":4.5},{"p":"B","t":0.0192,"v":-2.4},{"p":"B","t":0.0292,"v":4.5},{"p":"B","t":0.0392,"v":-2.4},{"p":"B","t":0.0492,"v":4.5},{"p":"B","t":0.0592,"v":-2.4},{"p":"B","t":0.0692,"v":4.5},{"p":"B","t":0.0792,"v":-2.4},{"p":"B","t":0.0892,"v":4.5},{"p":"B","t":0.0992,"v":-2.4},{"p":"B","t":0.1092,"v":4.5},{"p":"B","t":0.1192,"v":-2.4},{"p":"B","t":0.1292,"v":4.5},{"p":"B","t":0.1392,"v":-2.4},{"p":"B","t":0.1492,"v":4.2},{"p":"B","t":0.1592,"v":-3.8},{"p":"B","t":0.1692,"v":3.8},{"p":"B","t":0.1792,"v":-3.8},{"p":"B","t":0.1892,"v":3.8},{"p":"B","t":0.1992,"v":-3.8},{"p":"B","t":0.2092,"v":3.8},{"p":"B","t":0.2192,"v":-3.8},{"p":"B","t":0.2292,"v":3.8},{"p":"B","t":0.2392,"v":-3.8},{"p":"B","t":0.2492,"v":3.8},{"p":"B","t":0.2592,"v":-3.8},{"p":"B","t":0.2692,"v":3.8},{"p":"B","t":0.2792,"v":-3.8},{"p":"B","t":0.2892,"v":3.8},{"p":"B","t":0.2992,"v":-3.8},{"p":"B","t":0.3092,"v":3.8},{"p":"B","t":0.3192,"v":-3.8},{"p":"B","t":0.3292,"v":3.8},{"p":"B","t":0.3392,"v":-3.8},{"p":"B","t":0.3492,"v":3.8},{"p":"B","t":0.3592,"v":-3.8},{"p":"B","t":0.3692,"v":3.8},{"p":"B","t":0.3792,"v":-3.8},{"p":"B","t":0.3892,"v":3.8},{"p":"B","t":0.3992,"v":-3.8},{"p":"B","t":0.4092,"v":3.8},{"p":"B","t":0.4192,"v":-3.8},{"p":"B","t":0.4292,"v":3.8},{"p":"B","t":0.4392,"v":-3.8},{"p":"B","t":0.4492,"v":3.8},{"p":"B","t":0.4592,"v":-3.8},{"p":"B","t":0.4692,"v":3.8},{"p":"B","t":0.4792,"v":-3.8},{"p":"B","t":0.4892,"v":3.8},{"p":"B","t":0.4992,"v":-3.8},{"p":"B","t":0.5,"v":-3.75},
{"p":"A","t":0,"v":3.3},{"p":"A","t":0.0025,"v":3.6},{"p":"A","t":0.0125,"v":-3.5},{"p":"A","t":0.0225,"v":3.6},{"p":"A","t":0.0325,"v":-3.5},{"p":"A","t":0.0425,"v":3.6},{"p":"A","t":0.0525,"v":-3.5},{"p":"A","t":0.0625,"v":3.6},{"p":"A","t":0.0725,"v":-3.5},{"p":"A","t":0.0825,"v":3.6},{"p":"A","t":0.0925,"v":-3.5},{"p":"A","t":0.1025,"v":3.6},{"p":"A","t":0.1125,"v":-3.5},{"p":"A","t":0.1225,"v":3.6},{"p":"A","t":0.1325,"v":-3.5},{"p":"A","t":0.1425,"v":3.6},{"p":"A","t":0.1525,"v":-3.8},{"p":"A","t":0.1625,"v":3.8},{"p":"A","t":0.1725,"v":-3.8},{"p":"A","t":0.1825,"v":3.8},{"p":"A","t":0.1925,"v":-3.8},{"p":"A","t":0.2025,"v":3.8},{"p":"A","t":0.2125,"v":-3.8},{"p":"A","t":0.2225,"v":3.8},{"p":"A","t":0.2325,"v":-3.8},{"p":"A","t":0.2425,"v":3.8},{"p":"A","t":0.2525,"v":-3.8},{"p":"A","t":0.2625,"v":3.8},{"p":"A","t":0.2725,"v":-3.8},{"p":"A","t":0.2825,"v":3.8},{"p":"A","t":0.2925,"v":-3.8},{"p":"A","t":0.3025,"v":3.8},{"p":"A","t":0.3125,"v":-3.8},{"p":"A","t":0.3225,"v":3.8},{"p":"A","t":0.3325,"v":-3.8},{"p":"A","t":0.3425,"v":3.8},{"p":"A","t":0.3525,"v":-3.8},{"p":"A","t":0.3625,"v":3.8},{"p":"A","t":0.3725,"v":-3.8},{"p":"A","t":0.3825,"v":3.8},{"p":"A","t":0.3925,"v":-3.8},{"p":"A","t":0.4025,"v":3.8},{"p":"A","t":0.4125,"v":-3.8},{"p":"A","t":0.4225,"v":3.8},{"p":"A","t":0.4325,"v":-3.8},{"p":"A","t":0.4425,"v":3.8},{"p":"A","t":0.4525,"v":-3.8},{"p":"A","t":0.4625,"v":3.8},{"p":"A","t":0.4725,"v":-3.8},{"p":"A","t":0.4825,"v":3.8},{"p":"A","t":0.4925,"v":-3.8},{"p":"A","t":0.5,"v":2.7}
],
"dH":[{"f":0,"m":10.8},{"f":10,"m":16.5},{"f":20,"m":10.7},{"f":30,"m":6.6},{"f":40,"m":21.8},{"f":50,"m":100},{"f":60,"m":19.3},{"f":70,"m":3},{"f":80,"m":6},{"f":90,"m":2.4},{"f":100,"m":3.6},{"f":110,"m":1.9},{"f":120,"m":2.5},{"f":130,"m":1.7},{"f":140,"m":2},{"f":150,"m":1.5},{"f":160,"m":1.5},{"f":170,"m":1.3},{"f":180,"m":1.25},{"f":190,"m":1.25},{"f":200,"m":1.2},{"f":210,"m":1.05},{"f":220,"m":1.1},{"f":230,"m":1},{"f":240,"m":1},{"f":250,"m":0.9},{"f":260,"m":0.85},{"f":270,"m":0.75},{"f":280,"m":0.8},{"f":290,"m":0.75},{"f":300,"m":0.75},{"f":310,"m":0.75},{"f":320,"m":0.65},{"f":330,"m":0.65},{"f":340,"m":0.65},{"f":350,"m":0.65},{"f":360,"m":0.45},{"f":370,"m":0.6},{"f":380,"m":0.55},{"f":390,"m":0.55},{"f":400,"m":0.5},{"f":410,"m":0.55},{"f":420,"m":0.5},{"f":430,"m":0.5},{"f":440,"m":0.5},{"f":450,"m":0.5},{"f":460,"m":0.5},{"f":470,"m":0.5},{"f":480,"m":0.5},{"f":490,"m":0.5},{"f":500,"m":0.45},{"f":510,"m":0.4},{"f":520,"m":0.4},{"f":530,"m":0.4},{"f":540,"m":0.4},{"f":550,"m":0.35},{"f":560,"m":0.3},{"f":570,"m":0.3},{"f":580,"m":0.3},{"f":590,"m":0.3},{"f":600,"m":0.45},{"f":610,"m":0.4},{"f":620,"m":0.4},{"f":630,"m":0.3},{"f":640,"m":0.45},{"f":650,"m":0.4},{"f":660,"m":0.9},{"f":670,"m":0.45},{"f":680,"m":0.9},{"f":690,"m":0.5},{"f":700,"m":0.5},{"f":710,"m":0.45},{"f":720,"m":0.3},{"f":730,"m":0.4},{"f":740,"m":0.35},{"f":750,"m":0.3},{"f":760,"m":0.35},{"f":770,"m":0.4},{"f":780,"m":0.3},{"f":790,"m":0.3},{"f":800,"m":0.25},{"f":810,"m":0.2},{"f":820,"m":0.25},{"f":830,"m":0.15},{"f":840,"m":0.15},{"f":850,"m":0.15},{"f":860,"m":0.15},{"f":870,"m":0.2},{"f":880,"m":0.3},{"f":890,"m":0.3},{"f":900,"m":0.3},{"f":910,"m":0.2},{"f":920,"m":0.15},{"f":930,"m":0.15},{"f":940,"m":0.15},{"f":950,"m":0.15},{"f":960,"m":0.15},{"f":970,"m":0.15},{"f":980,"m":0.1},{"f":990,"m":0.1},{"f":1000,"m":0.1}],
"eH":[{"f":0,"m":0.53},{"f":10,"m":0.06},{"f":20,"m":0.025},{"f":30,"m":0.013},{"f":40,"m":0.018},{"f":50,"m":100},{"f":60,"m":0.012},{"f":70,"m":0.005},{"f":80,"m":0.004},{"f":90,"m":0.003},{"f":100,"m":0.835},{"f":110,"m":0.008},{"f":120,"m":0.002},{"f":130,"m":0.003},{"f":140,"m":0.002},{"f":150,"m":0.138},{"f":160,"m":0.004},{"f":170,"m":0.001},{"f":180,"m":0.001},{"f":190,"m":0.001},{"f":200,"m":0.228},{"f":210,"m":0.004},{"f":220,"m":0.001},{"f":230,"m":0.001},{"f":240,"m":0.001},{"f":250,"m":0.125},{"f":260,"m":0.001},{"f":270,"m":0.002},{"f":280,"m":0.008},{"f":290,"m":0.02},{"f":300,"m":0.322},{"f":310,"m":0.008},{"f":320,"m":0.004},{"f":330,"m":0.004},{"f":340,"m":0.008},{"f":350,"m":0.205},{"f":360,"m":0.002},{"f":370,"m":0.004},{"f":380,"m":0.004},{"f":390,"m":0.012},{"f":400,"m":0.308},{"f":410,"m":0.01},{"f":420,"m":0.012},{"f":430,"m":0.018},{"f":440,"m":0.05},{"f":450,"m":0.198},{"f":460,"m":0.04},{"f":470,"m":0.012},{"f":480,"m":0.025},{"f":490,"m":0.025},{"f":500,"m":0.18},{"f":510,"m":0.01},{"f":520,"m":0.01},{"f":530,"m":0.001},{"f":540,"m":0.002},{"f":550,"m":0.08},{"f":560,"m":0.004},{"f":570,"m":0.004},{"f":580,"m":0.008},{"f":590,"m":0.008},{"f":600,"m":0.078},{"f":610,"m":0.001},{"f":620,"m":0.001},{"f":630,"m":0.001},{"f":640,"m":0.004},{"f":650,"m":0.048},{"f":660,"m":0.001},{"f":670,"m":0.001},{"f":680,"m":0.001},{"f":690,"m":0.001},{"f":700,"m":0.055},{"f":710,"m":0.004},{"f":720,"m":0.001},{"f":730,"m":0.004},{"f":740,"m":0.004},{"f":750,"m":0.028},{"f":760,"m":0.004},{"f":770,"m":0.004},{"f":780,"m":0.001},{"f":790,"m":0.001},{"f":800,"m":0.073},{"f":810,"m":0.001},{"f":820,"m":0.003},{"f":830,"m":0.001},{"f":840,"m":0.003},{"f":850,"m":0.133},{"f":860,"m":0.01},{"f":870,"m":0.035},{"f":880,"m":0.035},{"f":890,"m":0.032},{"f":900,"m":0.1},{"f":910,"m":0.035},{"f":920,"m":0.028},{"f":930,"m":0.01},{"f":940,"m":0.018},{"f":950,"m":0.108},{"f":960,"m":0.005},{"f":970,"m":0.005},{"f":980,"m":0.001},{"f":990,"m":0.001},{"f":1000,"m":0.001}]
},
"vconcat":[
{"vconcat":[
{"width":848,"height":138,
"layer":[
{"data":{"name":"aV"},"mark":{"type":"line","interpolate":"monotone","strokeWidth":2.2,"clip":true},
"encoding":{"x":{"field":"t","type":"quantitative","scale":{"domain":[0,0.5],"nice":false,"zero":false,"padding":0},"axis":{"values":[0,0.05,0.1,0.15,0.2,0.25,0.3,0.35,0.4,0.45,0.5],"format":"~g","labelPadding":13.1,"grid":true,"title":null}},
"y":{"field":"v","type":"quantitative","scale":{"domain":[-606,615],"nice":false,"zero":false,"padding":0},"axis":{"values":[-500,0,500],"labelPadding":12,"grid":true,"title":"Vs","titleFontStyle":"italic","titleX":-26.2,"titleY":67}},
"color":{"field":"p","type":"nominal","scale":{"domain":["A","B","C"],"range":["#d7262b","#62bb46","#3a9bd5"]},"legend":null}}},
{"data":{"name":"ev"},"mark":{"type":"rule","color":"#000000","strokeWidth":4,"strokeDash":[3.5,2.5],"clip":true},
"encoding":{"x":{"field":"t","type":"quantitative","scale":{"domain":[0,0.5],"nice":false,"zero":false,"padding":0},"axis":{"orient":"top","values":[0,0.05,0.1,0.15,0.2,0.25,0.3,0.35,0.4,0.45,0.5],"labels":false,"grid":false,"title":null}}}},
{"data":{"name":"aV"},"mark":{"type":"point","opacity":0,"clip":true},
"encoding":{"y":{"field":"v","type":"quantitative","scale":{"domain":[-606,615],"nice":false,"zero":false,"padding":0},"axis":{"orient":"right","values":[-500,0,500],"labels":false,"grid":false,"title":null}}}}
],
"resolve":{"axis":{"x":"independent","y":"independent"}}},
{"width":848,"height":135,
"title":{"text":"(a)","orient":"bottom","anchor":"middle","frame":"bounds","offset":15.6,"baseline":"top"},
"layer":[
{"data":{"name":"aI"},"mark":{"type":"line","interpolate":"monotone","strokeWidth":2.2,"clip":true},
"encoding":{"x":{"field":"t","type":"quantitative","scale":{"domain":[0,0.5],"nice":false,"zero":false,"padding":0},"axis":{"values":[0,0.05,0.1,0.15,0.2,0.25,0.3,0.35,0.4,0.45,0.5],"format":"~g","labelPadding":7.9,"grid":true,"title":"Time (sec)","titleY":26.4,"titleBaseline":"top"}},
"y":{"field":"v","type":"quantitative","scale":{"domain":[-39.8,28],"nice":false,"zero":false,"padding":0},"axis":{"values":[-20,0,20],"labelPadding":12,"grid":true,"title":"Is","titleFontStyle":"italic","titleX":-26.2,"titleY":62}},
"color":{"field":"p","type":"nominal","scale":{"domain":["A","B","C"],"range":["#d7262b","#62bb46","#3a9bd5"]},"legend":null}}},
{"data":{"name":"ev"},"mark":{"type":"rule","color":"#000000","strokeWidth":4,"strokeDash":[3.5,2.5],"clip":true},
"encoding":{"x":{"field":"t","type":"quantitative","scale":{"domain":[0,0.5],"nice":false,"zero":false,"padding":0},"axis":{"orient":"top","values":[0,0.05,0.1,0.15,0.2,0.25,0.3,0.35,0.4,0.45,0.5],"labels":false,"grid":false,"title":null}}}},
{"data":{"name":"aI"},"mark":{"type":"point","opacity":0,"clip":true},
"encoding":{"y":{"field":"v","type":"quantitative","scale":{"domain":[-39.8,28],"nice":false,"zero":false,"padding":0},"axis":{"orient":"right","values":[-20,0,20],"labels":false,"grid":false,"title":null}}}}
],
"resolve":{"axis":{"x":"independent","y":"independent"}}}
],"spacing":32,"bounds":"flush"},
{"vconcat":[
{"vconcat":[
{"width":847,"height":148,
"layer":[
{"data":{"name":"bV"},"mark":{"type":"line","interpolate":"monotone","strokeWidth":2.2,"clip":true},
"encoding":{"x":{"field":"t","type":"quantitative","scale":{"domain":[0,0.5],"nice":false,"zero":false,"padding":0},"axis":{"values":[0,0.05,0.1,0.15,0.2,0.25,0.3,0.35,0.4,0.45,0.5],"format":"~g","labelPadding":13.4,"grid":true,"title":null}},
"y":{"field":"v","type":"quantitative","scale":{"domain":[-551.5,587],"nice":false,"zero":false,"padding":0},"axis":{"values":[-500,0,500],"labelPadding":12,"grid":true,"title":"Vₗ","titleFontStyle":"italic","titleX":-26.2,"titleY":70}},
"color":{"field":"p","type":"nominal","scale":{"domain":["A","B","C"],"range":["#d7262b","#62bb46","#3a9bd5"]},"legend":null}}},
{"data":{"name":"ev"},"mark":{"type":"rule","color":"#000000","strokeWidth":4,"strokeDash":[3.5,2.5],"clip":true},
"encoding":{"x":{"field":"t","type":"quantitative","scale":{"domain":[0,0.5],"nice":false,"zero":false,"padding":0},"axis":{"orient":"top","values":[0,0.05,0.1,0.15,0.2,0.25,0.3,0.35,0.4,0.45,0.5],"labels":false,"grid":false,"title":null}}}},
{"data":{"name":"bV"},"mark":{"type":"point","opacity":0,"clip":true},
"encoding":{"y":{"field":"v","type":"quantitative","scale":{"domain":[-551.5,587],"nice":false,"zero":false,"padding":0},"axis":{"orient":"right","values":[-500,0,500],"labels":false,"grid":false,"title":null}}}}
],
"resolve":{"axis":{"x":"independent","y":"independent"}}},
{"width":847,"height":143,
"title":{"text":"(b)","orient":"bottom","anchor":"middle","frame":"bounds","offset":21.6,"baseline":"top"},
"layer":[
{"data":{"name":"bI"},"mark":{"type":"line","interpolate":"monotone","strokeWidth":2.2,"clip":true},
"encoding":{"x":{"field":"t","type":"quantitative","scale":{"domain":[0,0.5],"nice":false,"zero":false,"padding":0},"axis":{"values":[0,0.05,0.1,0.15,0.2,0.25,0.3,0.35,0.4,0.45,0.5],"format":"~g","labelPadding":13.8,"grid":true,"title":"Time (sec)","titleY":32.4,"titleBaseline":"top"}},
"y":{"field":"v","type":"quantitative","scale":{"domain":[-42.7,29.2],"nice":false,"zero":false,"padding":0},"axis":{"values":[-40,-20,0,20],"labelPadding":12,"grid":true,"title":"Iₗ","titleFontStyle":"italic","titleX":-26.2,"titleY":66}},
"color":{"field":"p","type":"nominal","scale":{"domain":["A","B","C"],"range":["#d7262b","#62bb46","#3a9bd5"]},"legend":null}}},
{"data":{"name":"ev"},"mark":{"type":"rule","color":"#000000","strokeWidth":4,"strokeDash":[3.5,2.5],"clip":true},
"encoding":{"x":{"field":"t","type":"quantitative","scale":{"domain":[0,0.5],"nice":false,"zero":false,"padding":0},"axis":{"orient":"top","values":[0,0.05,0.1,0.15,0.2,0.25,0.3,0.35,0.4,0.45,0.5],"labels":false,"grid":false,"title":null}}}},
{"data":{"name":"bI"},"mark":{"type":"point","opacity":0,"clip":true},
"encoding":{"y":{"field":"v","type":"quantitative","scale":{"domain":[-42.7,29.2],"nice":false,"zero":false,"padding":0},"axis":{"orient":"right","values":[-40,-20,0,20],"labels":false,"grid":false,"title":null}}}}
],
"resolve":{"axis":{"x":"independent","y":"independent"}}}
],"spacing":29,"bounds":"flush"},
{"vconcat":[
{"vconcat":[
{"width":842,"height":167,
"layer":[
{"data":{"name":"cV"},"mark":{"type":"line","interpolate":"monotone","clip":true},
"encoding":{"x":{"field":"t","type":"quantitative","scale":{"domain":[0,0.5],"nice":false,"zero":false,"padding":0},"axis":{"values":[0,0.05,0.1,0.15,0.2,0.25,0.3,0.35,0.4,0.45,0.5],"format":"~g","labelPadding":12.4,"grid":true,"title":null}},
"y":{"field":"v","type":"quantitative","scale":{"domain":[-550,555],"nice":false,"zero":false,"padding":0},"axis":{"values":[-500,0,500],"labelPadding":12,"grid":true,"title":"Vs","titleFontStyle":"italic","titleX":-23.2,"titleY":78}},
"color":{"field":"p","type":"nominal","scale":{"domain":["A","B","C"],"range":["#d7262b","#62bb46","#3a9bd5"]},"legend":null},
"strokeWidth":{"field":"s","type":"nominal","scale":{"domain":["pre","post"],"range":[3.1,2.2]},"legend":null}}},
{"data":{"name":"ev"},"mark":{"type":"rule","color":"#000000","strokeWidth":4,"strokeDash":[3.5,2.5],"clip":true},
"encoding":{"x":{"field":"t","type":"quantitative","scale":{"domain":[0,0.5],"nice":false,"zero":false,"padding":0},"axis":{"orient":"top","values":[0,0.05,0.1,0.15,0.2,0.25,0.3,0.35,0.4,0.45,0.5],"labels":false,"grid":false,"title":null}}}},
{"data":{"name":"cV"},"mark":{"type":"point","opacity":0,"clip":true},
"encoding":{"y":{"field":"v","type":"quantitative","scale":{"domain":[-550,555],"nice":false,"zero":false,"padding":0},"axis":{"orient":"right","values":[-500,0,500],"labels":false,"grid":false,"title":null}}}}
],
"resolve":{"axis":{"x":"independent","y":"independent"}}},
{"width":845,"height":167,
"title":{"text":"(c)","orient":"bottom","anchor":"middle","frame":"bounds","offset":20.3,"baseline":"top"},
"layer":[
{"data":{"name":"cI"},"mark":{"type":"line","interpolate":"monotone","strokeWidth":2.2,"clip":true},
"encoding":{"x":{"field":"t","type":"quantitative","scale":{"domain":[0,0.5],"nice":false,"zero":false,"padding":0},"axis":{"values":[0,0.05,0.1,0.15,0.2,0.25,0.3,0.35,0.4,0.45,0.5],"format":"~g","labelPadding":15.1,"grid":true,"title":"Time (sec)","titleY":28.7,"titleBaseline":"top"}},
"y":{"field":"v","type":"quantitative","scale":{"domain":[-24.6,25],"nice":false,"zero":false,"padding":0},"axis":{"values":[-20,0,20],"labelPadding":12,"grid":true,"title":"Is","titleFontStyle":"italic","titleX":-23.2,"titleY":79}},
"color":{"field":"p","type":"nominal","scale":{"domain":["A","B","C"],"range":["#d7262b","#62bb46","#3a9bd5"]},"legend":null}}},
{"data":{"name":"ev"},"mark":{"type":"rule","color":"#000000","strokeWidth":4,"strokeDash":[3.5,2.5],"clip":true},
"encoding":{"x":{"field":"t","type":"quantitative","scale":{"domain":[0,0.5],"nice":false,"zero":false,"padding":0},"axis":{"orient":"top","values":[0,0.05,0.1,0.15,0.2,0.25,0.3,0.35,0.4,0.45,0.5],"labels":false,"grid":false,"title":null}}}},
{"data":{"name":"cI"},"mark":{"type":"point","opacity":0,"clip":true},
"encoding":{"y":{"field":"v","type":"quantitative","scale":{"domain":[-24.6,25],"nice":false,"zero":false,"padding":0},"axis":{"orient":"right","values":[-20,0,20],"labels":false,"grid":false,"title":null}}}}
],
"resolve":{"axis":{"x":"independent","y":"independent"}}}
],"spacing":36,"bounds":"flush"},
{"hconcat":[
{"width":429,"height":251,
"title":{"text":"(d)","orient":"bottom","anchor":"middle","frame":"bounds","offset":20.5,"baseline":"top"},
"layer":[
{"data":{"name":"dH"},"mark":{"type":"bar","color":"#000000","width":2.3,"clip":true},
"encoding":{"x":{"field":"f","type":"quantitative","scale":{"domain":[-52,1000],"nice":false,"zero":false,"padding":0},"axis":{"values":[0,200,400,600,800,1000],"format":"d","labelPadding":13.4,"grid":false,"title":"Frequency (Hz)","titleY":33,"titleBaseline":"top"}},
"y":{"field":"m","type":"quantitative","scale":{"domain":[-0.22,24],"nice":false,"zero":false,"clamp":true,"padding":0},"axis":{"values":[0,5,10,15,20],"format":"d","labelPadding":12,"grid":false,"title":"Mag (% of fundamental)","titleFontSize":17.5,"titleX":-29.3,"titleY":118}}}},
{"data":{"name":"dH"},"mark":{"type":"point","opacity":0,"clip":true},
"encoding":{"x":{"field":"f","type":"quantitative","scale":{"domain":[-52,1000],"nice":false,"zero":false,"padding":0},"axis":{"orient":"top","values":[0,200,400,600,800,1000],"labels":false,"grid":false,"title":"Fundamental (50 Hz) = 9.61, THD = 18.37%","titleY":-5,"titleBaseline":"bottom"}},
"y":{"field":"m","type":"quantitative","scale":{"domain":[-0.22,24],"nice":false,"zero":false,"clamp":true,"padding":0},"axis":{"orient":"right","values":[0,5,10,15,20],"labels":false,"grid":false,"title":null}}}}
],
"resolve":{"axis":{"x":"independent","y":"independent"}}},
{"width":432,"height":247,
"title":{"text":"(e)","orient":"bottom","anchor":"middle","frame":"bounds","offset":23.1,"baseline":"top"},
"layer":[
{"data":{"name":"eH"},"mark":{"type":"bar","color":"#000000","width":3,"clip":true},
"encoding":{"x":{"field":"f","type":"quantitative","scale":{"domain":[-49,1000],"nice":false,"zero":false,"padding":0},"axis":{"values":[0,200,400,600,800,1000],"format":"d","labelPadding":15.5,"grid":false,"title":"Frequency (Hz)","titleY":34.8,"titleBaseline":"top"}},
"y":{"field":"m","type":"quantitative","scale":{"domain":[-0.003,1],"nice":false,"zero":false,"clamp":true,"padding":0},"axis":{"values":[0,0.2,0.4,0.6,0.8,1],"format":"~g","labelPadding":12.3,"grid":false,"title":"Mag (% of fundamental)","titleFontSize":17.5,"titleX":-38.2,"titleY":112}}}},
{"data":{"name":"eH"},"mark":{"type":"point","opacity":0,"clip":true},
"encoding":{"x":{"field":"f","type":"quantitative","scale":{"domain":[-49,1000],"nice":false,"zero":false,"padding":0},"axis":{"orient":"top","values":[0,200,400,600,800,1000],"labels":false,"grid":false,"title":"Fundamental (50 Hz) = 9.67, THD = 1.08%","titleY":-4.6,"titleBaseline":"bottom"}},
"y":{"field":"m","type":"quantitative","scale":{"domain":[-0.003,1],"nice":false,"zero":false,"clamp":true,"padding":0},"axis":{"orient":"right","values":[0,0.2,0.4,0.6,0.8,1],"labels":false,"grid":false,"title":null}}}}
],
"resolve":{"axis":{"x":"independent","y":"independent"}}}
],"spacing":30.3}
],"spacing":16,"center":true}
],"spacing":20,"center":true}
],
"spacing":17.7,
"center":true
}
